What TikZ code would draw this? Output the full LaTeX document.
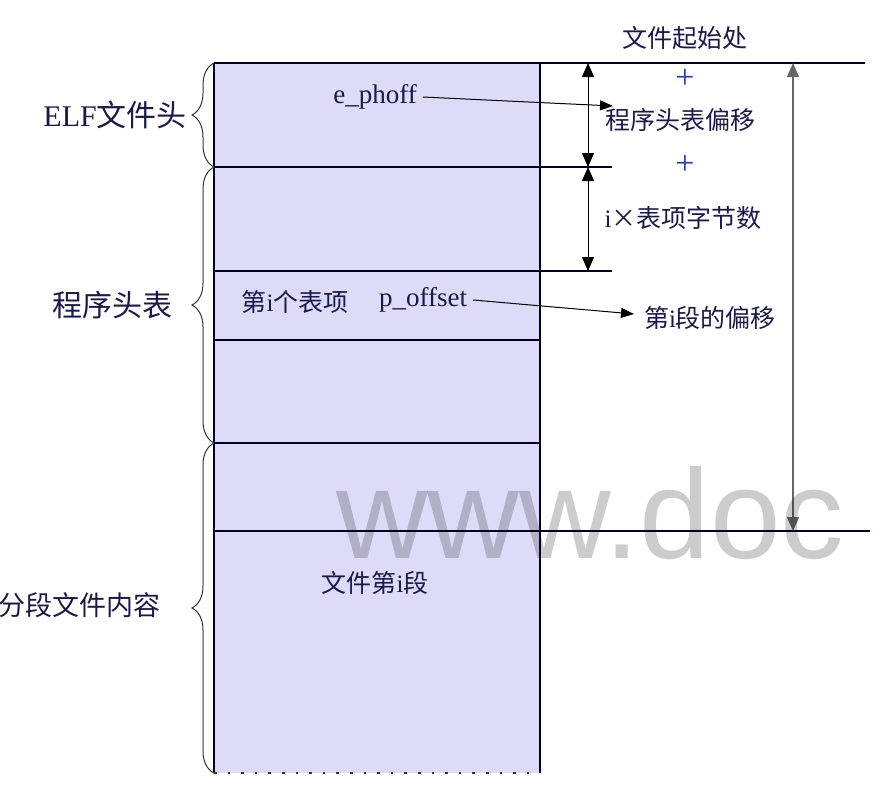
\documentclass[tikz,border=0pt]{standalone}
\usepackage{fontspec}
\setmainfont{Liberation Serif}
\newfontfamily\cjk{Noto Sans CJK SC}
\newfontfamily\wmfont{Liberation Sans}
\usetikzlibrary{arrows.meta,decorations.pathreplacing}
\newcommand\zh[1]{{\cjk #1}}
\definecolor{boxfill}{RGB}{220,220,248}
\definecolor{ink}{RGB}{25,25,75}
\definecolor{plusblue}{RGB}{40,60,170}
\tikzset{
  lbl/.style={text=ink, inner sep=2pt, font=\fontsize{25}{27}\selectfont},
  biglbl/.style={text=ink, inner sep=0pt, font=\fontsize{30}{32}\selectfont, anchor=east},
  code/.style={text=ink, inner sep=6pt, font=\fontsize{27}{29}\selectfont},
  plus/.style={text=plusblue, inner sep=0pt, font=\fontsize{34}{34}\selectfont},
  rule/.style={line width=1.3pt, draw=black!85!blue},
  dtip/.style={{Triangle[length=14pt,width=12pt]}-{Triangle[length=14pt,width=12pt]}},
  ptr/.style={line width=1pt, -{Triangle[length=13pt,width=10pt]}},
  brc/.style={decorate, decoration={brace, amplitude=22pt}, line width=1pt, draw=black!80},
}
\begin{document}
\begin{tikzpicture}[x=1pt,y=-1pt]
\useasboundingbox (0,0) rectangle (882,800);
% box
\fill[boxfill] (214,63) rectangle (540,773);
% corner coordinates
\coordinate (tl) at (214,63);
\coordinate (tr) at (540,63);
\coordinate (bl) at (214,773);
\coordinate (br) at (540,773);
\coordinate (topend) at (865,63);
\coordinate (l1a) at (214,167); \coordinate (l1b) at (612,167);
\coordinate (l2a) at (214,271); \coordinate (l2b) at (612,271);
\coordinate (l3a) at (214,340); \coordinate (l3b) at (540,340);
\coordinate (l4a) at (214,443); \coordinate (l4b) at (540,443);
\coordinate (l5a) at (214,531); \coordinate (l5b) at (870,531);
\draw[rule] (tl) -- (topend);
\draw[rule] (tl) -- (bl);
\draw[rule] (tr) -- (br);
\draw[rule] (l1a) -- (l1b);
\draw[rule] (l2a) -- (l2b);
\draw[rule] (l3a) -- (l3b);
\draw[rule] (l4a) -- (l4b);
\draw[rule] (l5a) -- (l5b);
\draw[line width=2.6pt, dash pattern=on 2.6pt off 11pt, draw=black!80] (bl) -- (br);
% braces
\draw[brc] (214,167) -- (214,63);
\draw[brc] (214,443) -- (214,167);
\draw[brc] (214,773) -- (214,443);
% left labels
\node[biglbl] (elf) at (187,115) {ELF\zh{文件头}};
\node[biglbl] (pht) at (173,305) {\zh{程序头表}};
\node[biglbl, font=\fontsize{27}{29}\selectfont] (seg) at (161,605) {\zh{分段文件内容}};
% right side dimension arrows
\coordinate (d0) at (588,63);
\coordinate (d1) at (588,167);
\coordinate (d2) at (588,271);
\draw[line width=1pt, dtip] (d0) -- (d1);
\draw[line width=1pt, dtip] (d1) -- (d2);
\coordinate (e0) at (793,63);
\coordinate (e1) at (793,531);
\draw[line width=1.2pt, draw=black!60, dtip] (e0) -- (e1);
% right labels
\node[lbl] (start) at (685,38) {\zh{文件起始处}};
\node[plus] (p1) at (685,79) {+};
\node[lbl] (phoffs) at (680,120) {\zh{程序头表偏移}};
\node[plus] (p2) at (685,165) {+};
\node[lbl] (ientry) at (683,218) {i\zh{×表项字节数}};
\node[lbl] (segoff) at (710,318) {\zh{第}i\zh{段的偏移}};
% box texts
\node[code] (ephoff) at (375,97) {e\_phoff};
\node[lbl] (ith) at (295,302) {\zh{第}i\zh{个表项}};
\node[code] (poff) at (423,300) {p\_offset};
\node[lbl] (segi) at (375,583) {\zh{文件第}i\zh{段}};
% pointers
\coordinate (ephtip) at (613,106);
\coordinate (pofftip) at (634,314);
\draw[ptr] (ephoff.east) -- (ephtip);
\draw[ptr] (poff.east) -- (pofftip);
% watermark
\node[anchor=base west, inner sep=0pt, text=black, text opacity=0.2,
      font=\fontsize{127}{127}\selectfont\wmfont] (wm) at (336,558) {www.doc};
\end{tikzpicture}
\end{document}
